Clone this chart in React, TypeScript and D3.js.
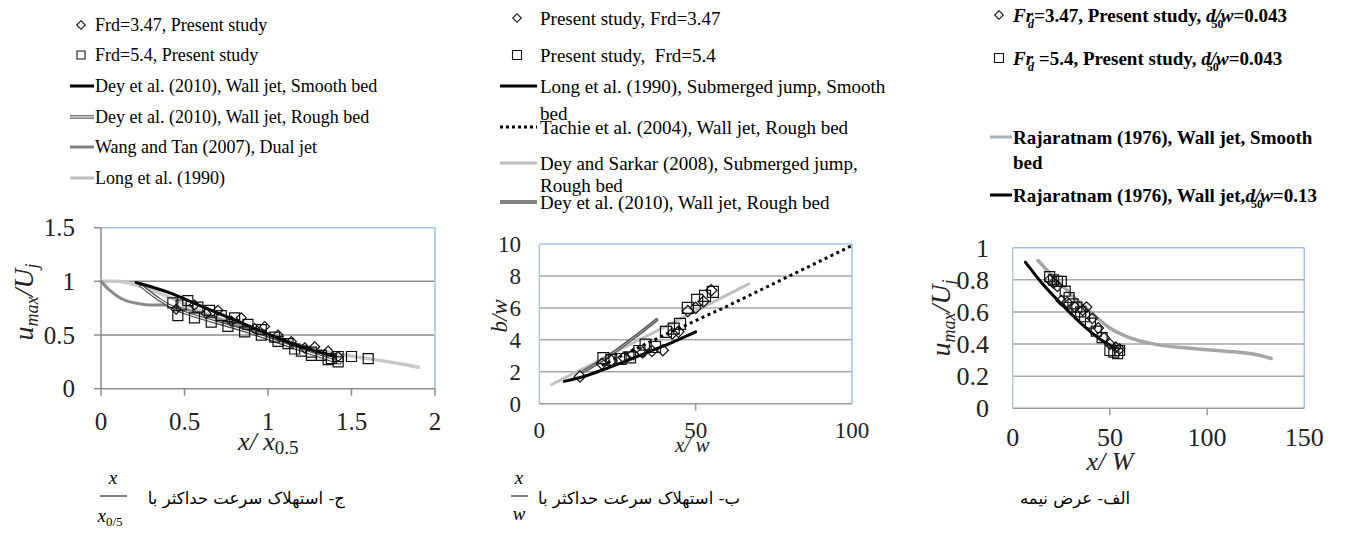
import React from 'react';
import * as d3 from 'd3';

// ---------- data: panel 1 (u_max/U_j vs x/x0.5) ----------
const p1XTicks = [0, 0.5, 1, 1.5, 2];
const p1YTicks = [0, 0.5, 1, 1.5];
const p1Frd347: [number, number][] = [
  [0.45, 0.74], [0.56, 0.78], [0.63, 0.7], [0.7, 0.73], [0.78, 0.63], [0.84, 0.66], [0.92, 0.56],
  [0.98, 0.58], [1.06, 0.5], [1.14, 0.44], [1.22, 0.38], [1.28, 0.39], [1.36, 0.35], [1.42, 0.3],
];
const p1Frd54: [number, number][] = [
  [0.43, 0.8], [0.48, 0.78], [0.52, 0.82], [0.58, 0.76], [0.65, 0.73], [0.72, 0.68], [0.8, 0.66],
  [0.88, 0.6], [0.96, 0.55], [1.04, 0.48], [1.12, 0.42], [1.2, 0.35], [1.26, 0.34], [1.32, 0.31],
  [1.38, 0.28], [1.42, 0.3], [1.5, 0.3], [1.6, 0.28],
  [0.46, 0.68], [0.56, 0.66], [0.66, 0.62], [0.76, 0.58], [0.86, 0.53], [0.96, 0.5], [1.06, 0.44],
  [1.16, 0.37], [1.26, 0.31], [1.36, 0.27], [1.42, 0.25],
];
const p1DeySmooth: [number, number][] = [
  [0.21, 0.99], [0.4, 0.9], [0.6, 0.77], [0.8, 0.64], [1.0, 0.51], [1.2, 0.39], [1.4, 0.3],
];
const p1DeyRough: [number, number][] = [
  [0.24, 0.96], [0.35, 0.83], [0.45, 0.74], [0.6, 0.66], [0.8, 0.57], [1.0, 0.47], [1.2, 0.36], [1.43, 0.24],
];
const p1WangTan: [number, number][] = [
  [0, 1.0], [0.05, 0.92], [0.1, 0.86], [0.15, 0.82], [0.22, 0.795], [0.3, 0.78], [0.38, 0.78],
  [0.45, 0.76], [0.6, 0.7], [0.8, 0.6], [1.0, 0.5], [1.2, 0.4], [1.4, 0.3],
];
const p1Long: [number, number][] = [
  [0, 1.0], [0.1, 1.0], [0.2, 0.97], [0.4, 0.86], [0.6, 0.72], [0.8, 0.6], [1.0, 0.49],
  [1.2, 0.4], [1.4, 0.33], [1.6, 0.28], [1.8, 0.23], [1.9, 0.2],
];

// ---------- data: panel 2 (b/w vs x/w) ----------
const p2XTicks = [0, 50, 100];
const p2YTicks = [0, 2, 4, 6, 8, 10];
const p2Frd347: [number, number][] = [
  [13, 1.7], [20, 2.5], [23, 2.7], [27, 2.9], [30, 3.1], [33, 3.2], [36, 3.3], [39.5, 3.35],
  [42.5, 4.4], [44.5, 4.5], [47.5, 5.8], [50, 6.0], [52.5, 6.4], [55, 7.1],
];
const p2Frd54: [number, number][] = [
  [20.5, 2.85], [23, 2.75], [26, 2.8], [29, 2.9], [32, 3.3], [34, 3.7], [37, 3.55], [40.5, 4.5],
  [43, 4.7], [45, 5.0], [47.5, 6.0], [50.5, 6.5], [53, 6.75], [55.5, 7.0],
];
const p2Long: [number, number][] = [
  [8, 1.4], [15, 1.75], [20, 2.1], [28, 2.7], [35, 3.25], [42, 3.8], [50, 4.5],
];
const p2Tachie: [number, number][] = [[20, 2.4], [40, 4.3], [60, 6.1], [80, 8.0], [100, 9.9]];
const p2DeySarkar: [number, number][] = [[4, 1.2], [20, 2.8], [40, 4.8], [67, 7.5]];
const p2DeyRough: [number, number][] = [[14, 2.0], [20, 2.7], [30, 4.1], [37.5, 5.25]];

// ---------- data: panel 3 (u_max/U_j vs x/W) ----------
const p3XTicks = [0, 50, 100, 150];
const p3YTicks = [0, 0.2, 0.4, 0.6, 0.8, 1];
const p3Frd347: [number, number][] = [
  [19, 0.8], [21, 0.78], [23, 0.76], [25, 0.67], [28, 0.66], [32, 0.63], [36, 0.61], [38, 0.63],
  [41, 0.56], [44, 0.5], [47, 0.44], [50, 0.4], [53, 0.38], [55, 0.37],
];
const p3Frd54: [number, number][] = [
  [19, 0.82], [21, 0.8], [23, 0.79], [25, 0.79], [27, 0.73], [29, 0.69], [31, 0.65], [33, 0.63],
  [35, 0.6], [37, 0.57], [40, 0.53], [43, 0.48], [46, 0.44], [50, 0.36], [52, 0.35], [54, 0.34], [55, 0.36],
];
const p3Smooth: [number, number][] = [
  [13, 0.92], [20, 0.83], [30, 0.71], [40, 0.6], [50, 0.5], [60, 0.44], [75, 0.395], [90, 0.375],
  [100, 0.365], [115, 0.35], [125, 0.335], [133, 0.31],
];
const p3Rough: [number, number][] = [[6.5, 0.91], [15, 0.78], [25, 0.65], [35, 0.53], [45, 0.43], [52, 0.38]];

const SERIF = "'Liberation Serif', Tinos, 'Times New Roman', Times, 'DejaVu Serif', serif";
const PERSIAN = "'DejaVu Sans', 'Noto Sans', sans-serif";
const BLUE = '#9dc3e6';

type Sc = d3.ScaleLinear<number, number>;

function Frame({ x, y, yt, grid, left, bottom, xTickMarks, yTickMarks }: any) {
  const [x0, x1] = x.range();
  const [y0, y1] = y.range();
  return (
    <g>
      {yt.slice(1, -1).map((t: number) => (
        <line key={'g' + t} x1={x0} x2={x1} y1={y(t)} y2={y(t)} stroke={grid} strokeWidth={1.5} />
      ))}
      <line x1={x0} x2={x1} y1={y1} y2={y1} stroke={BLUE} strokeWidth={1.5} />
      <line x1={x1} x2={x1} y1={y1} y2={y0} stroke={BLUE} strokeWidth={1.5} />
      <line x1={x0} x2={x0} y1={y1} y2={y0} stroke={left} strokeWidth={1.5} />
      <line x1={x0} x2={x1} y1={y0} y2={y0} stroke={bottom} strokeWidth={1.5} />
      {yTickMarks && yt.map((t: number) => (
        <line key={'yt' + t} x1={x0 - 7} x2={x0} y1={y(t)} y2={y(t)} stroke={left} strokeWidth={1.5} />
      ))}
      {xTickMarks.map((t: number) => (
        <line key={'xt' + t} x1={x(t)} x2={x(t)} y1={y0} y2={y0 + 7} stroke={bottom} strokeWidth={1.5} />
      ))}
    </g>
  );
}

const sq = d3.symbol().type(d3.symbolSquare);

function Markers({ data, x, y, shape, size }: { data: [number, number][]; x: Sc; y: Sc; shape: 'sq' | 'dm'; size: number }) {
  const path = sq.size(size * size)() as string;
  return (
    <g>
      {data.map((d, i) => (
        <path
          key={i}
          d={path}
          transform={`translate(${x(d[0])},${y(d[1])})${shape === 'dm' ? ' rotate(45)' : ''}`}
          fill="none"
          stroke="#111"
          strokeWidth={1.2}
        />
      ))}
    </g>
  );
}

function Curve({ data, x, y, color, width, dash, curve }: any) {
  const line = d3.line<[number, number]>()
    .x((d) => x(d[0]))
    .y((d) => y(d[1]))
    .curve(curve || d3.curveMonotoneX);
  return <path d={line(data) as string} fill="none" stroke={color} strokeWidth={width} strokeDasharray={dash} strokeLinecap={dash ? 'butt' : 'round'} />;
}

function DoubleCurve({ data, x, y, outer, inner, width }: any) {
  return (
    <g>
      <Curve data={data} x={x} y={y} color={outer} width={width} />
      <Curve data={data} x={x} y={y} color={inner} width={width * 0.35} />
    </g>
  );
}

function LegendMarker({ cx, cy, shape, size }: any) {
  const path = sq.size(size * size)() as string;
  return <path d={path} transform={`translate(${cx},${cy})${shape === 'dm' ? ' rotate(45)' : ''}`} fill="none" stroke="#111" strokeWidth={1.1} />;
}

export default function App() {
  // panel scales
  const x1 = d3.scaleLinear().domain([0, 2]).range([101, 435]);
  const y1 = d3.scaleLinear().domain([0, 1.5]).range([388.7, 227.7]);
  const x2 = d3.scaleLinear().domain([0, 100]).range([539.3, 852]);
  const y2 = d3.scaleLinear().domain([0, 10]).range([403.7, 244]);
  const x3 = d3.scaleLinear().domain([0, 150]).range([1012.7, 1304.3]);
  const y3 = d3.scaleLinear().domain([0, 1]).range([408.3, 247.7]);

  const leg1 = ['Frd=3.47, Present study', 'Frd=5.4, Present study', 'Dey et al. (2010), Wall jet, Smooth bed',
    'Dey et al. (2010), Wall jet, Rough bed', 'Wang and Tan (2007), Dual jet', 'Long et al. (1990)'];
  const leg1Y = [25, 55, 86, 117, 147, 178];

  return (
    <svg width={1358} height={536} style={{ position: 'absolute', left: 0, top: 0, background: '#fff', fontFamily: SERIF }}>
      <rect width={1358} height={536} fill="#fff" />

      {/* ================= panel 1 ================= */}
      <g fontSize={18}>
        <LegendMarker cx={81} cy={leg1Y[0]} shape="dm" size={6} />
        <LegendMarker cx={81} cy={leg1Y[1]} shape="sq" size={8} />
        <line x1={70} x2={94} y1={leg1Y[2]} y2={leg1Y[2]} stroke="#000" strokeWidth={3} />
        <line x1={70} x2={94} y1={leg1Y[3]} y2={leg1Y[3]} stroke="#555" strokeWidth={3.5} />
        <line x1={70} x2={94} y1={leg1Y[3]} y2={leg1Y[3]} stroke="#fff" strokeWidth={1.2} />
        <line x1={70} x2={94} y1={leg1Y[4]} y2={leg1Y[4]} stroke="#7f7f7f" strokeWidth={3} />
        <line x1={70} x2={94} y1={leg1Y[5]} y2={leg1Y[5]} stroke="#bfbfbf" strokeWidth={3} />
        {leg1.map((t, i) => (
          <text key={t} x={95} y={leg1Y[i]} dy="0.35em">{t}</text>
        ))}
      </g>
      <Frame x={x1} y={y1} yt={p1YTicks} grid="#8c8c8c" left="#8c8c8c" bottom="#8c8c8c"
        xTickMarks={p1XTicks} yTickMarks />
      <Curve data={p1Long} x={x1} y={y1} color="#c8c8c8" width={3.5} />
      <Curve data={p1WangTan} x={x1} y={y1} color="#8a8a8a" width={3} />
      <DoubleCurve data={p1DeyRough} x={x1} y={y1} outer="#444" inner="#fff" width={3.5} />
      <Curve data={p1DeySmooth} x={x1} y={y1} color="#000" width={3} />
      <Markers data={p1Frd54} x={x1} y={y1} shape="sq" size={10} />
      <Markers data={p1Frd347} x={x1} y={y1} shape="dm" size={7} />
      <g fontSize={25} fill="#222">
        {p1YTicks.map((t) => (
          <text key={t} x={75} y={y1(t)} dy="0.35em" textAnchor="end">{t}</text>
        ))}
        {p1XTicks.map((t) => (
          <text key={t} x={x1(t)} y={430} textAnchor="middle">{t}</text>
        ))}
      </g>
      <text transform="translate(33,302) rotate(-90)" textAnchor="middle" fontSize={28} fontStyle="italic" fill="#222">
        u<tspan fontSize={18} dy={5}>max</tspan><tspan dy={-5}>/</tspan>U<tspan fontSize={18} dy={5}>j</tspan>
      </text>
      <text x={238} y={450} fontSize={26} fontStyle="italic" fill="#222">
        x/ x<tspan fontSize={19} fontStyle="normal" dy={4}>0.5</tspan>
      </text>

      {/* ================= panel 2 ================= */}
      <g fontSize={19}>
        <LegendMarker cx={517} cy={18} shape="dm" size={6} />
        <LegendMarker cx={517} cy={55} shape="sq" size={9} />
        <line x1={500} x2={537} y1={86} y2={86} stroke="#000" strokeWidth={3} />
        <line x1={500} x2={537} y1={127} y2={127} stroke="#000" strokeWidth={3} strokeDasharray="3 3" />
        <line x1={500} x2={537} y1={163} y2={163} stroke="#bfbfbf" strokeWidth={3} />
        <line x1={500} x2={537} y1={202} y2={202} stroke="#595959" strokeWidth={3.5} />
        <line x1={500} x2={537} y1={202} y2={202} stroke="#aaa" strokeWidth={1} />
        <text x={540} y={18} dy="0.35em">Present study, Frd=3.47</text>
        <text x={540} y={55} dy="0.35em" style={{ whiteSpace: 'pre' }}>Present study,  Frd=5.4</text>
        <text x={540} y={86} dy="0.35em">Long et al. (1990), Submerged jump, Smooth</text>
        <text x={540} y={113} dy="0.35em">bed</text>
        <text x={540} y={127} dy="0.35em">Tachie et al. (2004), Wall jet, Rough bed</text>
        <text x={540} y={163} dy="0.35em">Dey and Sarkar (2008), Submerged jump,</text>
        <text x={540} y={185} dy="0.35em">Rough bed</text>
        <text x={540} y={202} dy="0.35em">Dey et al. (2010), Wall jet, Rough bed</text>
      </g>
      <Frame x={x2} y={y2} yt={p2YTicks} grid="#a6a6a6" left="#b4c6d8" bottom="#9a9a9a"
        xTickMarks={[50]} yTickMarks={false} />
      <Curve data={p2DeySarkar} x={x2} y={y2} color="#c0c0c0" width={3} />
      <Curve data={p2Tachie} x={x2} y={y2} color="#000" width={3} dash="3 3.5" curve={d3.curveLinear} />
      <Curve data={p2Long} x={x2} y={y2} color="#000" width={3} />
      <DoubleCurve data={p2DeyRough} x={x2} y={y2} outer="#555" inner="#999" width={3.5} />
      <Markers data={p2Frd54} x={x2} y={y2} shape="sq" size={11} />
      <Markers data={p2Frd347} x={x2} y={y2} shape="dm" size={8} />
      <g fontSize={23} fill="#222">
        {p2YTicks.map((t) => (
          <text key={t} x={521} y={y2(t)} dy="0.35em" textAnchor="end">{t}</text>
        ))}
        {p2XTicks.map((t) => (
          <text key={t} x={x2(t)} y={438} textAnchor="middle">{t}</text>
        ))}
      </g>
      <text transform="translate(507,316) rotate(-90)" textAnchor="middle" fontSize={23} fontStyle="italic" fill="#222">b/w</text>
      <text x={675} y={452} fontSize={21} fontStyle="italic" fill="#222">x/ w</text>

      {/* ================= panel 3 ================= */}
      <g fontSize={19} fontWeight="bold">
        <LegendMarker cx={999} cy={15} shape="dm" size={6} />
        <LegendMarker cx={999} cy={58} shape="sq" size={9} />
        <line x1={990} x2={1012} y1={137} y2={137} stroke="#a3b3bc" strokeWidth={3} />
        <line x1={990} x2={1012} y1={195} y2={195} stroke="#000" strokeWidth={3} />
        <text x={1013} y={15} dy="0.35em">
          <tspan fontStyle="italic">Fr</tspan><tspan fontStyle="italic" fontSize={12} dy={6} dx={-5}>d</tspan>
          <tspan dy={-6}>=3.47, Present study, </tspan><tspan fontStyle="italic">d</tspan>
          <tspan fontSize={12} dy={6} dx={-4}>50</tspan><tspan fontStyle="italic" dy={-6} dx={-8}>/w</tspan>
          <tspan>=0.043</tspan>
        </text>
        <text x={1013} y={58} dy="0.35em">
          <tspan fontStyle="italic">Fr</tspan><tspan fontStyle="italic" fontSize={12} dy={6} dx={-5}>d</tspan>
          <tspan dy={-6}> =5.4, Present study, </tspan><tspan fontStyle="italic">d</tspan>
          <tspan fontSize={12} dy={6} dx={-4}>50</tspan><tspan fontStyle="italic" dy={-6} dx={-8}>/w</tspan>
          <tspan>=0.043</tspan>
        </text>
        <text x={1013} y={137} dy="0.35em">Rajaratnam (1976), Wall jet, Smooth</text>
        <text x={1013} y={162} dy="0.35em">bed</text>
        <text x={1013} y={195} dy="0.35em">
          Rajaratnam (1976), Wall jet,<tspan fontStyle="italic">d</tspan>
          <tspan fontSize={12} dy={6} dx={-4}>50</tspan><tspan fontStyle="italic" dy={-6} dx={-8}>/w</tspan>
          <tspan>=0.13</tspan>
        </text>
      </g>
      <Frame x={x3} y={y3} yt={p3YTicks} grid="#a6a6a6" left="#b4c6d8" bottom="#9a9a9a"
        xTickMarks={[50, 100]} yTickMarks={false} />
      <Curve data={p3Smooth} x={x3} y={y3} color="#a6a6a6" width={3.5} />
      <Curve data={p3Rough} x={x3} y={y3} color="#000" width={3} />
      <Markers data={p3Frd54} x={x3} y={y3} shape="sq" size={10} />
      <Markers data={p3Frd347} x={x3} y={y3} shape="dm" size={7.5} />
      <g fontSize={26} fill="#222">
        {p3YTicks.map((t) => (
          <text key={t} x={989} y={y3(t)} dy="0.35em" textAnchor="end">{t}</text>
        ))}
        {p3XTicks.map((t) => (
          <text key={t} x={x3(t)} y={446} textAnchor="middle">{t}</text>
        ))}
      </g>
      <text transform="translate(950,318) rotate(-90)" textAnchor="middle" fontSize={28} fontStyle="italic" fill="#222">
        u<tspan fontSize={18} dy={5}>max</tspan><tspan dy={-5}>/</tspan>U<tspan fontSize={18} dy={5}>j</tspan>
      </text>
      <text x={x3(50)} y={470} fontSize={26} fontStyle="italic" fill="#222" textAnchor="middle">x/ W</text>

      {/* ================= captions ================= */}
      <g style={{ fontFamily: PERSIAN }} fontSize={16.5} fill="#000">
        <text x={345} y={504} textAnchor="end">ج- استهلاک سرعت حداکثر با</text>
        <text x={740} y={504} textAnchor="end">ب- استهلاک سرعت حداکثر با</text>
        <text x={1130} y={504} textAnchor="end">الف- عرض نیمه</text>
      </g>
      <g fontStyle="italic" fill="#000">
        <text x={113} y={484} fontSize={19} textAnchor="middle">x</text>
        <line x1={100} x2={127} y1={496} y2={496} stroke="#000" strokeWidth={1} />
        <text x={110} y={522} fontSize={19} textAnchor="middle">x<tspan fontSize={13} fontStyle="normal" dy={4}>0/5</tspan></text>
        <text x={519} y={484} fontSize={19} textAnchor="middle">x</text>
        <line x1={511} x2={528} y1={496} y2={496} stroke="#000" strokeWidth={1} />
        <text x={519} y={520} fontSize={19} textAnchor="middle">w</text>
      </g>
    </svg>
  );
}
